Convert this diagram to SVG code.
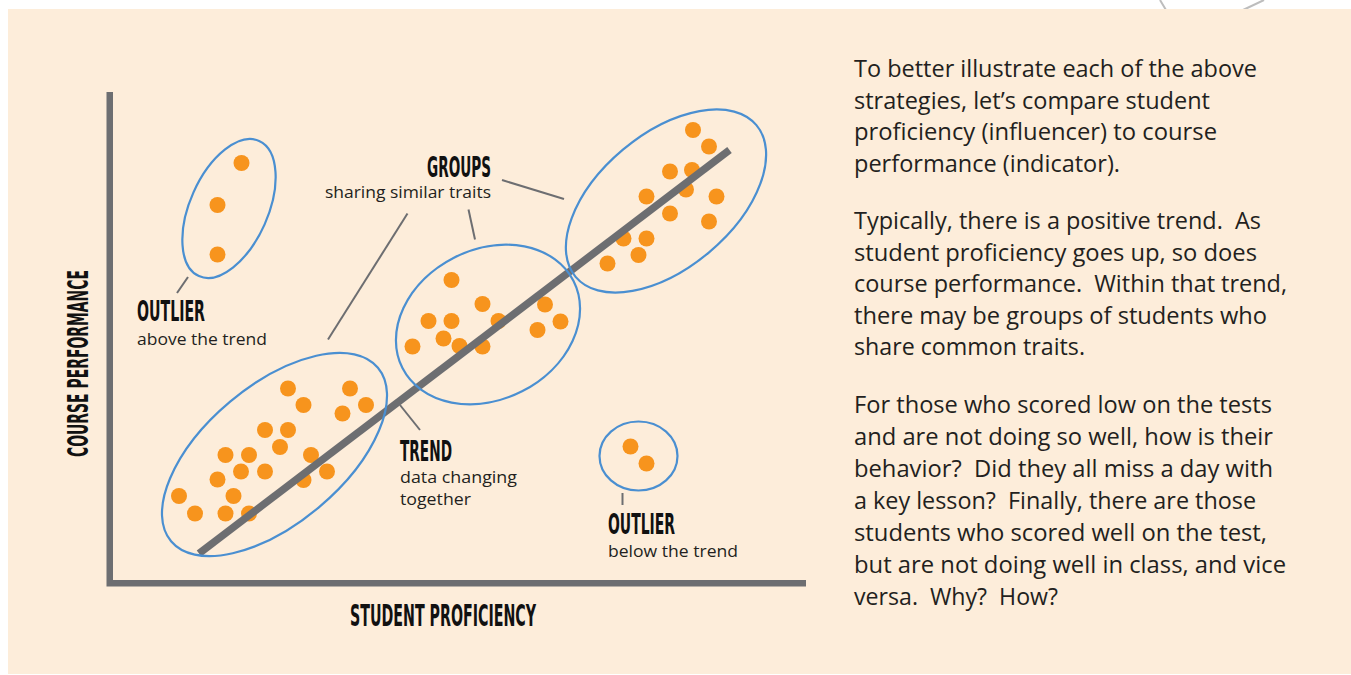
<svg xmlns="http://www.w3.org/2000/svg" width="1351" height="675" viewBox="0 0 1351 675">
<style>
.bg{fill:#fdedda}
.dot{fill:#f7941d}
.ring{fill:none;stroke:#4a8fd1;stroke-width:2.2}
.lead{stroke:#6d6e71;stroke-width:2;fill:none}
.axis{stroke:#6d6e71;stroke-width:6.5;fill:none;stroke-linejoin:miter}
.trend{stroke:#6d6e71;stroke-width:7.5;stroke-linecap:butt}
.head{font-family:"DejaVu Sans Condensed","DejaVu Sans","Liberation Sans",sans-serif;font-weight:bold;fill:#111}
.sub{font-family:"Open Sans","Noto Sans","Liberation Sans",sans-serif;font-size:16.5px;fill:#231f20}
.para{font-family:"Open Sans","Noto Sans","Liberation Sans",sans-serif;font-size:23px;fill:#231f20}
.deco{stroke:#bdbdbd;stroke-width:2;fill:none}
</style>
<rect x="0" y="0" width="1351" height="675" fill="#ffffff"/>
<path class="deco" d="M1160,0 L1166,10 M1264,0 L1243,10"/>
<rect class="bg" x="8" y="9" width="1343" height="665"/>

<g id="axes">
<path class="axis" d="M109.75,92 V583.25 H806"/>
<text class="head" font-size="31" x="350" y="626" textLength="186" lengthAdjust="spacingAndGlyphs">STUDENT PROFICIENCY</text>
<text class="head" font-size="29" transform="translate(88,457) rotate(-90)" x="0" y="0" textLength="187" lengthAdjust="spacingAndGlyphs">COURSE PERFORMANCE</text>
</g>

<g id="points">
<g id="points-outlier-above">
<circle class="dot" cx="241.5" cy="163" r="8"/>
<circle class="dot" cx="217.5" cy="205" r="8"/>
<circle class="dot" cx="217.5" cy="254.5" r="8"/>
</g>
<g id="points-low">
<circle class="dot" cx="288" cy="388.5" r="8"/>
<circle class="dot" cx="303.5" cy="405" r="8"/>
<circle class="dot" cx="350" cy="388.5" r="8"/>
<circle class="dot" cx="366" cy="405" r="8"/>
<circle class="dot" cx="342.5" cy="413.5" r="8"/>
<circle class="dot" cx="265" cy="430" r="8"/>
<circle class="dot" cx="288" cy="430" r="8"/>
<circle class="dot" cx="280" cy="447" r="8"/>
<circle class="dot" cx="225.5" cy="455" r="8"/>
<circle class="dot" cx="249" cy="455" r="8"/>
<circle class="dot" cx="311" cy="455" r="8"/>
<circle class="dot" cx="241" cy="471.5" r="8"/>
<circle class="dot" cx="265" cy="471.5" r="8"/>
<circle class="dot" cx="327" cy="471.5" r="8"/>
<circle class="dot" cx="217.5" cy="479.5" r="8"/>
<circle class="dot" cx="303.5" cy="480" r="8"/>
<circle class="dot" cx="233.5" cy="496" r="8"/>
<circle class="dot" cx="179" cy="496" r="8"/>
<circle class="dot" cx="195" cy="513.5" r="8"/>
<circle class="dot" cx="225.5" cy="513.5" r="8"/>
<circle class="dot" cx="249" cy="513.5" r="8"/>
</g>
<g id="points-mid">
<circle class="dot" cx="451.5" cy="280" r="8"/>
<circle class="dot" cx="482.5" cy="304" r="8"/>
<circle class="dot" cx="428.5" cy="321" r="8"/>
<circle class="dot" cx="451.5" cy="321" r="8"/>
<circle class="dot" cx="498.5" cy="321" r="8"/>
<circle class="dot" cx="443.5" cy="338.5" r="8"/>
<circle class="dot" cx="459.5" cy="346" r="8"/>
<circle class="dot" cx="482.5" cy="346.5" r="8"/>
<circle class="dot" cx="412.5" cy="346.5" r="8"/>
<circle class="dot" cx="545" cy="304.5" r="8"/>
<circle class="dot" cx="560.5" cy="321.5" r="8"/>
<circle class="dot" cx="537.5" cy="330" r="8"/>
</g>
<g id="points-high">
<circle class="dot" cx="693" cy="130" r="8"/>
<circle class="dot" cx="709" cy="146.5" r="8"/>
<circle class="dot" cx="670" cy="171.5" r="8"/>
<circle class="dot" cx="692" cy="170" r="8"/>
<circle class="dot" cx="686" cy="189.5" r="8"/>
<circle class="dot" cx="646.5" cy="196.5" r="8"/>
<circle class="dot" cx="716.5" cy="196.5" r="8"/>
<circle class="dot" cx="670" cy="213.5" r="8"/>
<circle class="dot" cx="709" cy="221.5" r="8"/>
<circle class="dot" cx="623.5" cy="238.5" r="8"/>
<circle class="dot" cx="646.5" cy="238.5" r="8"/>
<circle class="dot" cx="638.5" cy="255" r="8"/>
<circle class="dot" cx="607.5" cy="263.5" r="8"/>
</g>
<g id="points-outlier-below">
<circle class="dot" cx="630.5" cy="446.5" r="8"/>
<circle class="dot" cx="646.5" cy="463.5" r="8"/>
</g>
</g>

<g id="trend-line">
<line class="trend" x1="199" y1="553.5" x2="729.5" y2="150"/>
</g>

<g id="outlier-above">
<ellipse class="ring" cx="229" cy="208.5" rx="39" ry="74" transform="rotate(24 229 208.5)"/>
</g>
<g id="group-low">
<ellipse class="ring" cx="274.5" cy="454.5" rx="135" ry="69" transform="rotate(-40 274.5 454.5)"/>
</g>
<g id="group-mid">
<ellipse class="ring" cx="488" cy="324.5" rx="96" ry="75" transform="rotate(-27 488 324.5)"/>
</g>
<g id="group-high">
<ellipse class="ring" cx="666" cy="201" rx="118" ry="67" transform="rotate(-40 666 201)"/>
</g>
<g id="outlier-below">
<ellipse class="ring" cx="638.5" cy="456" rx="39" ry="34.5"/>
</g>

<g id="connectors">
<line class="lead" x1="188" y1="277" x2="177" y2="293"/>
<line class="lead" x1="502" y1="180" x2="564" y2="199"/>
<line class="lead" x1="468.5" y1="209.5" x2="475" y2="239.5"/>
<line class="lead" x1="407.5" y1="213.5" x2="328" y2="339.5"/>
<line class="lead" x1="400" y1="405" x2="420" y2="430"/>
<line class="lead" x1="622.5" y1="493" x2="622.5" y2="505"/>
</g>

<g id="label-outlier-above">
<text class="head" font-size="28" x="137" y="321" textLength="68" lengthAdjust="spacingAndGlyphs">OUTLIER</text>
<text class="sub" x="137" y="345" textLength="130" lengthAdjust="spacingAndGlyphs">above the trend</text>
</g>
<g id="label-groups">
<text class="head" font-size="27.5" x="427" y="177" textLength="64" lengthAdjust="spacingAndGlyphs">GROUPS</text>
<text class="sub" x="325" y="198" textLength="166" lengthAdjust="spacingAndGlyphs">sharing similar traits</text>
</g>
<g id="label-trend">
<text class="head" font-size="28" x="400" y="461" textLength="52" lengthAdjust="spacingAndGlyphs">TREND</text>
<text class="sub" x="400" y="483" textLength="117" lengthAdjust="spacingAndGlyphs">data changing</text>
<text class="sub" x="400" y="505" textLength="71" lengthAdjust="spacingAndGlyphs">together</text>
</g>
<g id="label-outlier-below">
<text class="head" font-size="28" x="608" y="534" textLength="67" lengthAdjust="spacingAndGlyphs">OUTLIER</text>
<text class="sub" x="608" y="557" textLength="130" lengthAdjust="spacingAndGlyphs">below the trend</text>
</g>

<g id="description">
<text class="para" x="854" y="77" textLength="403" lengthAdjust="spacingAndGlyphs">To better illustrate each of the above</text>
<text class="para" x="854" y="108.6" textLength="356" lengthAdjust="spacingAndGlyphs">strategies, let’s compare student</text>
<text class="para" x="854" y="140.2" textLength="363" lengthAdjust="spacingAndGlyphs">proficiency (influencer) to course</text>
<text class="para" x="854" y="171.8" textLength="266" lengthAdjust="spacingAndGlyphs">performance (indicator).</text>

<text class="para" xml:space="preserve" x="854" y="229" textLength="407" lengthAdjust="spacingAndGlyphs">Typically, there is a positive trend.  As</text>
<text class="para" x="854" y="260.6" textLength="403" lengthAdjust="spacingAndGlyphs">student proficiency goes up, so does</text>
<text class="para" xml:space="preserve" x="854" y="292.2" textLength="433" lengthAdjust="spacingAndGlyphs">course performance.  Within that trend,</text>
<text class="para" x="854" y="323.8" textLength="413" lengthAdjust="spacingAndGlyphs">there may be groups of students who</text>
<text class="para" x="854" y="355.4" textLength="231" lengthAdjust="spacingAndGlyphs">share common traits.</text>

<text class="para" x="854" y="412.5" textLength="418" lengthAdjust="spacingAndGlyphs">For those who scored low on the tests</text>
<text class="para" x="854" y="444.5" textLength="419" lengthAdjust="spacingAndGlyphs">and are not doing so well, how is their</text>
<text class="para" xml:space="preserve" x="854" y="476.5" textLength="419" lengthAdjust="spacingAndGlyphs">behavior?  Did they all miss a day with</text>
<text class="para" xml:space="preserve" x="854" y="508.5" textLength="402" lengthAdjust="spacingAndGlyphs">a key lesson?  Finally, there are those</text>
<text class="para" x="854" y="540.5" textLength="413" lengthAdjust="spacingAndGlyphs">students who scored well on the test,</text>
<text class="para" x="854" y="572.5" textLength="432" lengthAdjust="spacingAndGlyphs">but are not doing well in class, and vice</text>
<text class="para" xml:space="preserve" x="854" y="604.5" textLength="204" lengthAdjust="spacingAndGlyphs">versa.  Why?  How?</text>
</g>
</svg>
